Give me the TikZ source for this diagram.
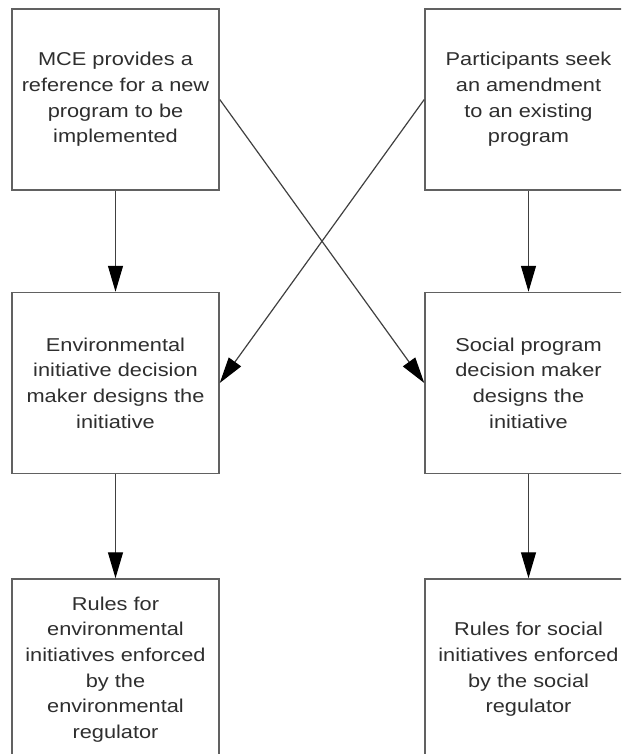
\documentclass[tikz,border=0pt]{standalone}
\usepackage{fontspec}
\setmainfont{Liberation Sans}[FakeStretch=1.17]
\usetikzlibrary{arrows.meta}
\tikzset{
    box/.style={draw=black!62, line width=1.5pt, fill=white, minimum width=207pt, minimum height=181pt, align=center, inner sep=0pt, text=black!82, font=\fontsize{18.6}{25.7}\selectfont},
    link/.style={draw=black!75, line width=1.2pt, -{Triangle[length=26pt, width=15pt, color=black]}}
}
\begin{document}
\begin{tikzpicture}[x=1pt, y=-1pt]
    \useasboundingbox (0,0) rectangle (621,754);
    \clip (0,0) rectangle (621,754);
    \node [box] (mce) at (115.5, 99.5) {MCE provides a\\reference for a new\\program to be\\implemented};
    \node [box] (part) at (528.5, 99.5) {Participants seek\\an amendment\\to an existing\\program};
    \node [box] (envdm) at (115.5, 383) {Environmental\\initiative decision\\maker designs the\\initiative};
    \node [box] (socdm) at (528.5, 383) {Social program\\decision maker\\designs the\\initiative};
    \node [box] (envrules) at (115.5, 669.5) {Rules for\\environmental\\initiatives enforced\\by the\\environmental\\regulator};
    \node [box] (socrules) at (528.5, 669.5) {Rules for social\\initiatives enforced\\by the social\\regulator};
    \draw [link] (mce) -- (envdm);
    \draw [link] (part) -- (socdm);
    \draw [link] (mce.east) -- (socdm.west);
    \draw [link] (part.west) -- (envdm.east);
    \draw [link] (envdm) -- (envrules);
    \draw [link] (socdm) -- (socrules);
\end{tikzpicture}
\end{document}
